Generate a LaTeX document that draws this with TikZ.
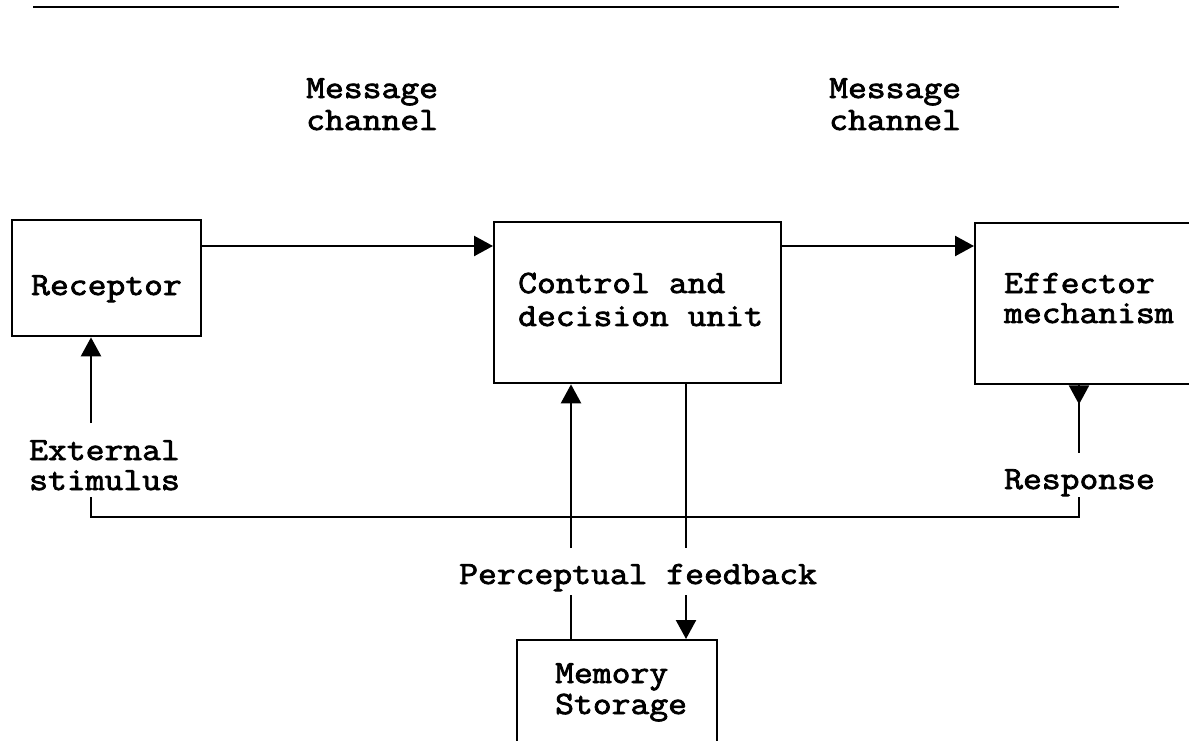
\documentclass[tikz,border=0pt]{standalone}
\usepackage{fontspec}
\newfontfamily\tw{Latin Modern Mono}[FakeStretch=1.125,FakeBold=2.4]
\usetikzlibrary{arrows.meta}
% left-aligned two-line label; baseline = first line, fixed line pitch
\newcommand\stack[3]{\vtop{\baselineskip=#1\lineskiplimit=-\maxdimen\hbox{#2}\hbox{#3}}}
\begin{document}
\begin{tikzpicture}[x=0.02cm,y=-0.02cm,line width=1.35pt,
  box/.style={draw,inner sep=0pt,anchor=north west},
  txt/.style={inner sep=0pt,anchor=base west,font=\fontsize{18.5pt}{20pt}\selectfont\tw},
  arr/.style={-{Triangle[length=0.38cm,width=0.4cm]}}]
\useasboundingbox (0,0) rectangle (1189,740);
\clip (0,0) rectangle (1189,740);

% heading rule
\coordinate (ruleL) at (33,7);
\coordinate (ruleR) at (1119,7);
\draw[line width=1.6pt] (ruleL) -- (ruleR);

% blocks
\node[box,minimum width=3.78cm,minimum height=2.32cm] (rec) at (11,219) {};
\node[box,minimum width=5.74cm,minimum height=3.22cm] (ctrl) at (493,221) {};
\node[box,minimum width=5.2cm,minimum height=3.22cm] (eff) at (974,222) {};
\node[box,minimum width=4cm,minimum height=4cm] (mem) at (516,639) {};

% labels
\node[txt] (msgA) at (305,98) {\stack{0.64cm}{Message}{channel}};
\node[txt] (msgB) at (828,98) {\stack{0.64cm}{Message}{channel}};
\node[txt] (recT) at (30,295) {Receptor};
\node[txt] (ctrlT) at (517,293) {\stack{0.66cm}{Control and}{decision unit}};
\node[txt] (effT) at (1003,293) {\stack{0.60cm}{Effector}{mechanism}};
\node[txt] (ext) at (28,460) {\stack{0.60cm}{External}{stimulus}};
\node[txt] (resp) at (1003,489) {Response};
\node[txt] (perc) at (458,584) {Perceptual feedback};
\node[txt] (memT) at (554,683) {\stack{0.62cm}{Memory}{Storage}};

% message channels
\coordinate (chan) at (0,246);
\draw[arr] (rec.east |- chan) -- (ctrl.west |- chan);
\draw[arr] (ctrl.east |- chan) -- (eff.west |- chan);

% stimulus / response loop
\coordinate (stimTop) at (91,423);
\coordinate (stimBot) at (91,497);
\coordinate (respTop) at (1079,453);
\coordinate (respBot) at (1079,497);
\coordinate (loopL) at (91,517);
\coordinate (loopR) at (1079,517);
\draw[arr] (stimTop) -- (rec.south -| stimTop);
\draw (stimBot) -- (loopL) -- (loopR) -- (respBot);
\draw (eff.south -| respTop) -- (respTop);
\draw[arr] (eff.south -| respTop) -- ++(0,19);

% perceptual feedback with memory
\coordinate (pUp) at (571,548);
\coordinate (pLo) at (571,595);
\coordinate (fUp) at (686,548);
\coordinate (fLo) at (686,595);
\draw[arr] (pUp) -- (ctrl.south -| pUp);
\draw (mem.north -| pLo) -- (pLo);
\draw (ctrl.south -| fUp) -- (fUp);
\draw[arr] (fLo) -- (mem.north -| fLo);
\end{tikzpicture}
\end{document}
